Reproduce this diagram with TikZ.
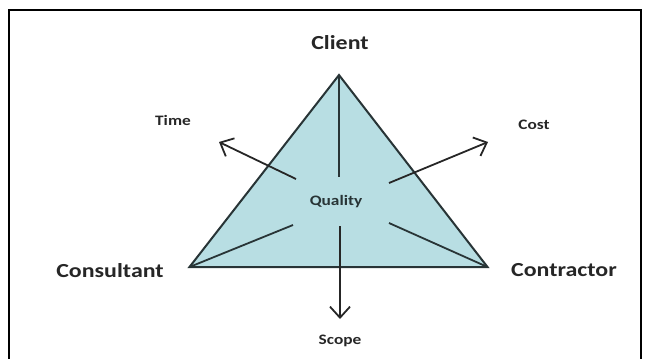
\documentclass[tikz,border=0pt]{standalone}
\usepackage{fontspec}
\setmainfont{Carlito}
\usetikzlibrary{arrows.meta}
\definecolor{trifill}{RGB}{184,222,227}
\definecolor{edge}{RGB}{40,52,54}
\newcommand{\widetxt}[1]{\scalebox{1.2}[1]{#1}}
\begin{document}
\begin{tikzpicture}[x=1bp,y=-1bp,
  biglabel/.style={font=\fontsize{20}{22}\selectfont\bfseries, text=black!85, inner sep=0pt},
  smalllabel/.style={font=\fontsize{14.5}{16}\selectfont\bfseries, text=black!85, inner sep=0pt},
  ray/.style={line width=1.8bp, draw=edge},
  arr/.style={line width=1.8bp, draw=black!85, -{Straight Barb[length=11bp,width=20bp,line width=1.8bp]}}]
\useasboundingbox (0,0) rectangle (646,358);
\begin{scope}
\clip (0,0) rectangle (646,358);
\draw[line width=1.5bp] (9,10) rectangle (641,380);
\end{scope}
% triangle corners
\coordinate (A) at (339,75);
\coordinate (L) at (189.5,267);
\coordinate (R) at (487.5,267);
\fill[trifill] (A) -- (L) -- (R) -- cycle;
\draw[line width=2bp, draw=edge, line join=miter] (A) -- (L) -- (R) -- cycle;
% inner ray ends
\coordinate (Atop) at (339,177);
\coordinate (Lin) at (293,225);
\coordinate (Rin) at (389,223);
\draw[ray] (A) -- (Atop);
\draw[ray] (L) -- (Lin);
\draw[ray] (R) -- (Rin);
% arrows
\coordinate (Ts) at (296,179);
\coordinate (Te) at (219,142);
\coordinate (Cs) at (389,183);
\coordinate (Ce) at (488,142);
\coordinate (Ss) at (340,226);
\coordinate (Se) at (340,319);
\draw[arr] (Ts) -- (Te);
\draw[arr] (Cs) -- (Ce);
\draw[arr] (Ss) -- (Se);
% labels
\node[biglabel] (client) at (340,43) {\widetxt{Client}};
\node[biglabel] (consultant) at (110,271) {\widetxt{Consultant}};
\node[biglabel] (contractor) at (564,270) {\widetxt{Contractor}};
\node[smalllabel] (time) at (173,120) {\widetxt{Time}};
\node[smalllabel] (cost) at (534,125) {\widetxt{Cost}};
\node[smalllabel, text=edge] (quality) at (336,202) {\widetxt{Quality}};
\node[smalllabel] (scope) at (340,341) {\widetxt{Scope}};
\end{tikzpicture}
\end{document}
